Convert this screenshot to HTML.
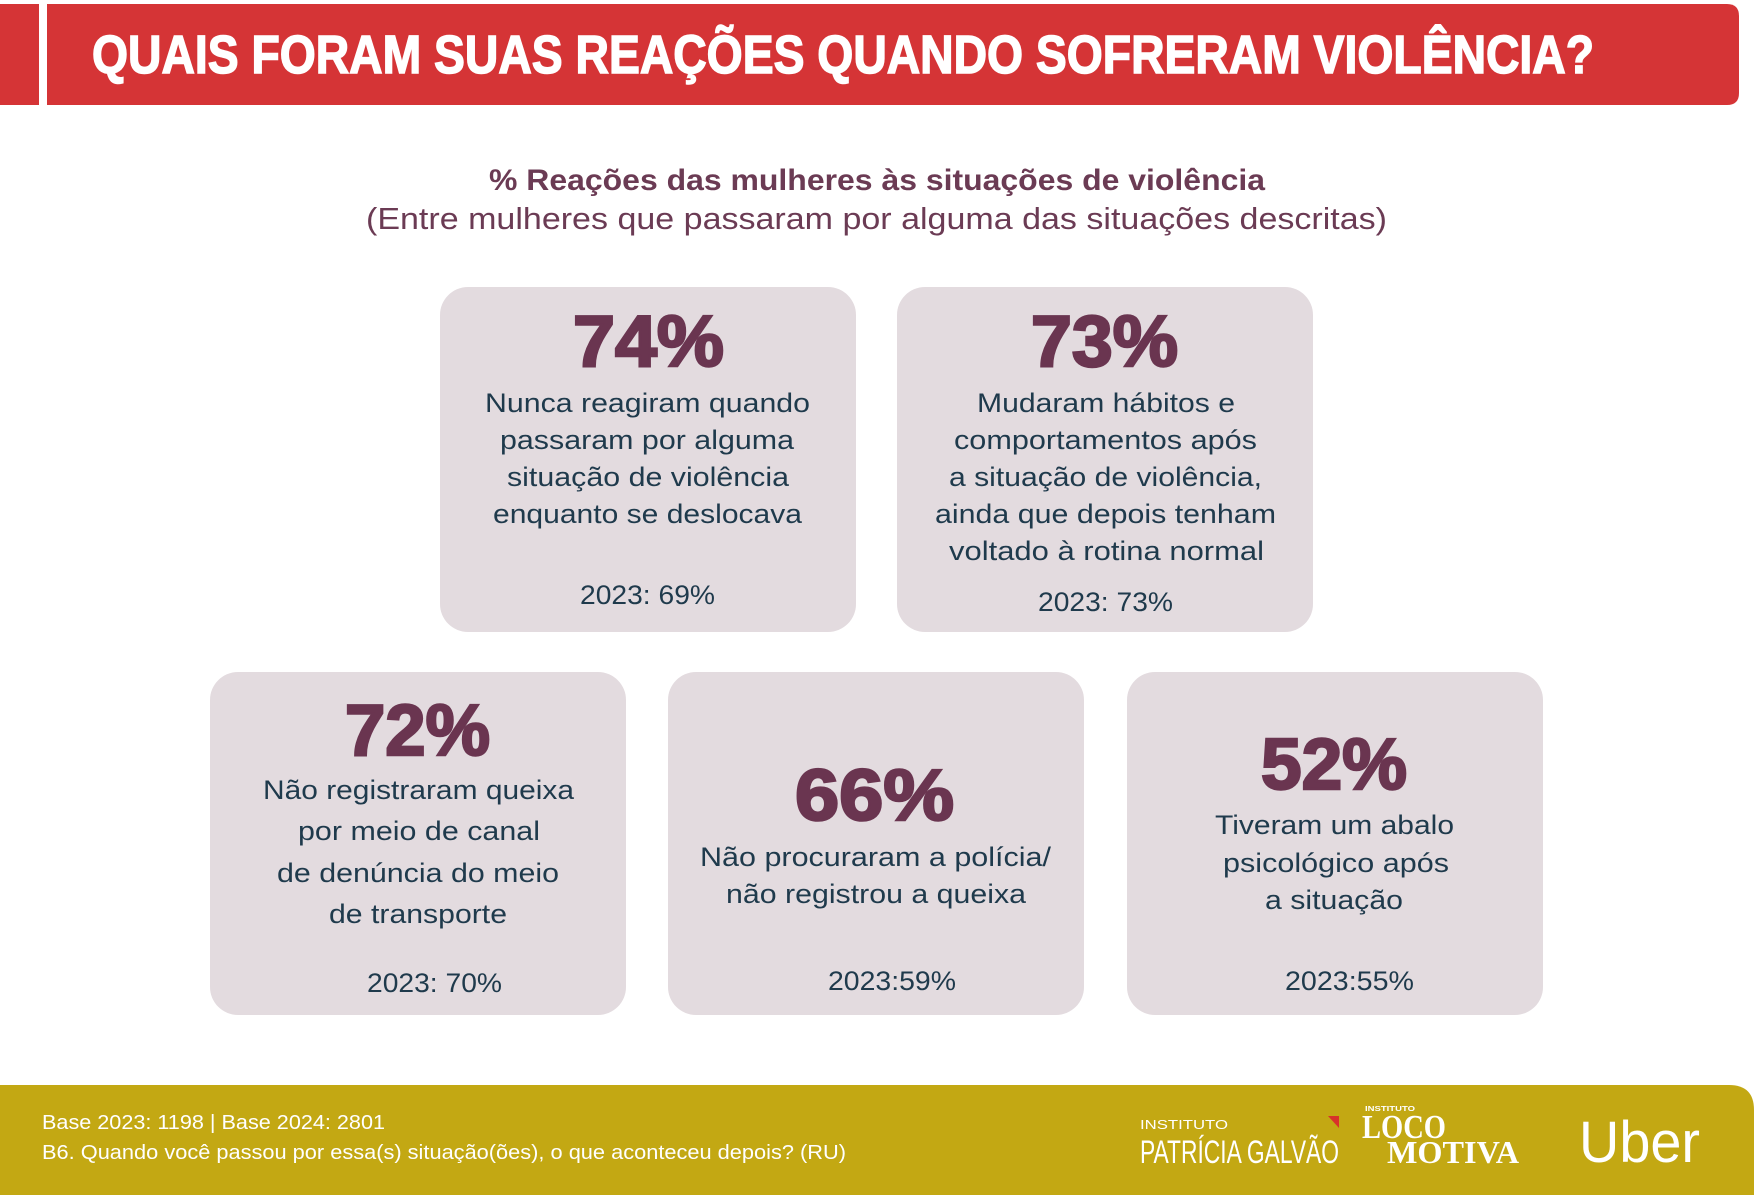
<!DOCTYPE html>
<html>
<head>
<meta charset="utf-8">
<style>
html,body{margin:0;padding:0;background:#ffffff;}
svg{display:block;}
.b{font-family:"Liberation Sans",sans-serif;fill:#1f3a4c;font-size:27px;}
.n{font-family:"Liberation Sans",sans-serif;font-weight:bold;fill:#6a3550;stroke:#6a3550;stroke-width:2.5;font-size:72px;}
</style>
</head>
<body>
<svg width="1754" height="1195" viewBox="0 0 1754 1195" xmlns="http://www.w3.org/2000/svg">
  <rect x="0" y="0" width="1754" height="1195" fill="#ffffff"/>
  <!-- header -->
  <rect x="0" y="4" width="39" height="101" fill="#d53436"/>
  <path d="M47 4 H1727 Q1739 4 1739 16 V93 Q1739 105 1727 105 H47 Z" fill="#d53436"/>
  <text x="92" y="73" font-family="Liberation Sans, sans-serif" font-weight="bold" font-size="54" fill="#ffffff" stroke="#ffffff" stroke-width="1.5" textLength="1502" lengthAdjust="spacingAndGlyphs">QUAIS FORAM SUAS REAÇÕES QUANDO SOFRERAM VIOLÊNCIA?</text>

  <!-- subtitle -->
  <text x="489" y="190" font-family="Liberation Sans, sans-serif" font-weight="bold" font-size="30" fill="#6b3b54" textLength="776" lengthAdjust="spacingAndGlyphs">% Reações das mulheres às situações de violência</text>
  <text x="366" y="229" font-family="Liberation Sans, sans-serif" font-size="31" fill="#6b3b54" textLength="1021" lengthAdjust="spacingAndGlyphs">(Entre mulheres que passaram por alguma das situações descritas)</text>

  <!-- cards -->
  <rect x="440" y="287" width="416" height="345" rx="28" fill="#e3dbdf"/>
  <rect x="897" y="287" width="416" height="345" rx="28" fill="#e3dbdf"/>
  <rect x="210" y="672" width="416" height="343" rx="28" fill="#e3dbdf"/>
  <rect x="668" y="672" width="416" height="343" rx="28" fill="#e3dbdf"/>
  <rect x="1127" y="672" width="416" height="343" rx="28" fill="#e3dbdf"/>

  <!-- card 1 -->
  <text class="n" x="573" y="366" textLength="151" lengthAdjust="spacingAndGlyphs">74%</text>
  <text class="b" x="485" y="412" textLength="325" lengthAdjust="spacingAndGlyphs">Nunca reagiram quando</text>
  <text class="b" x="500" y="449" textLength="294" lengthAdjust="spacingAndGlyphs">passaram por alguma</text>
  <text class="b" x="507" y="486" textLength="282" lengthAdjust="spacingAndGlyphs">situação de violência</text>
  <text class="b" x="493" y="523" textLength="309" lengthAdjust="spacingAndGlyphs">enquanto se deslocava</text>
  <text class="b" x="580" y="604" textLength="135" lengthAdjust="spacingAndGlyphs">2023: 69%</text>

  <!-- card 2 -->
  <text class="n" x="1031" y="366" textLength="147" lengthAdjust="spacingAndGlyphs">73%</text>
  <text class="b" x="977" y="412" textLength="258" lengthAdjust="spacingAndGlyphs">Mudaram hábitos e</text>
  <text class="b" x="954" y="449" textLength="303" lengthAdjust="spacingAndGlyphs">comportamentos após</text>
  <text class="b" x="949" y="486" textLength="313" lengthAdjust="spacingAndGlyphs">a situação de violência,</text>
  <text class="b" x="935" y="523" textLength="341" lengthAdjust="spacingAndGlyphs">ainda que depois tenham</text>
  <text class="b" x="949" y="560" textLength="315" lengthAdjust="spacingAndGlyphs">voltado à rotina normal</text>
  <text class="b" x="1038" y="611" textLength="135" lengthAdjust="spacingAndGlyphs">2023: 73%</text>

  <!-- card 3 -->
  <text class="n" x="345" y="755" textLength="145" lengthAdjust="spacingAndGlyphs">72%</text>
  <text class="b" x="263" y="799" textLength="311" lengthAdjust="spacingAndGlyphs">Não registraram queixa</text>
  <text class="b" x="298" y="840" textLength="242" lengthAdjust="spacingAndGlyphs">por meio de canal</text>
  <text class="b" x="277" y="882" textLength="282" lengthAdjust="spacingAndGlyphs">de denúncia do meio</text>
  <text class="b" x="329" y="923" textLength="178" lengthAdjust="spacingAndGlyphs">de transporte</text>
  <text class="b" x="367" y="992" textLength="135" lengthAdjust="spacingAndGlyphs">2023: 70%</text>

  <!-- card 4 -->
  <text class="n" x="795" y="820" textLength="159" lengthAdjust="spacingAndGlyphs">66%</text>
  <text class="b" x="700" y="866" textLength="351" lengthAdjust="spacingAndGlyphs">Não procuraram a polícia/</text>
  <text class="b" x="726" y="903" textLength="300" lengthAdjust="spacingAndGlyphs">não registrou a queixa</text>
  <text class="b" x="828" y="990" textLength="128" lengthAdjust="spacingAndGlyphs">2023:59%</text>

  <!-- card 5 -->
  <text class="n" x="1261" y="789" textLength="146" lengthAdjust="spacingAndGlyphs">52%</text>
  <text class="b" x="1215" y="834" textLength="239" lengthAdjust="spacingAndGlyphs">Tiveram um abalo</text>
  <text class="b" x="1223" y="872" textLength="226" lengthAdjust="spacingAndGlyphs">psicológico após</text>
  <text class="b" x="1265" y="909" textLength="138" lengthAdjust="spacingAndGlyphs">a situação</text>
  <text class="b" x="1285" y="990" textLength="129" lengthAdjust="spacingAndGlyphs">2023:55%</text>

  <!-- footer -->
  <path d="M0 1085 H1729 Q1754 1085 1754 1110 V1195 H0 Z" fill="#c3a813"/>
  <text x="42" y="1129" font-family="Liberation Sans, sans-serif" font-size="20" fill="#ffffff" textLength="343" lengthAdjust="spacingAndGlyphs">Base 2023:  1198 | Base 2024: 2801</text>
  <text x="42" y="1159" font-family="Liberation Sans, sans-serif" font-size="20" fill="#ffffff" textLength="804" lengthAdjust="spacingAndGlyphs">B6. Quando você passou por essa(s) situação(ões), o que aconteceu depois? (RU)</text>

  <!-- logos -->
  <text x="1140" y="1129" font-family="Liberation Sans, sans-serif" font-size="13" fill="#ffffff" textLength="88" lengthAdjust="spacingAndGlyphs">INSTITUTO</text>
  <text x="1140" y="1163" font-family="Liberation Sans, sans-serif" font-size="32" fill="#ffffff" textLength="199" lengthAdjust="spacingAndGlyphs">PATRÍCIA GALVÃO</text>
  <polygon points="1328,1116 1339,1116 1339,1128" fill="#d8322a"/>
  <text x="1365" y="1111" font-family="Liberation Sans, sans-serif" font-weight="bold" font-size="7" fill="#ffffff" textLength="50" lengthAdjust="spacingAndGlyphs">INSTITUTO</text>
  <text x="1362" y="1138" font-family="Liberation Serif, serif" font-weight="bold" font-size="34" fill="#ffffff" textLength="84" lengthAdjust="spacingAndGlyphs">LOCO</text>
  <text x="1387" y="1163" font-family="Liberation Serif, serif" font-weight="bold" font-size="32" fill="#ffffff" textLength="132" lengthAdjust="spacingAndGlyphs">MOTIVA</text>
  <text x="1579" y="1162" font-family="Liberation Sans, sans-serif" font-size="58" fill="#ffffff" textLength="121" lengthAdjust="spacingAndGlyphs">Uber</text>
</svg>
</body>
</html>
